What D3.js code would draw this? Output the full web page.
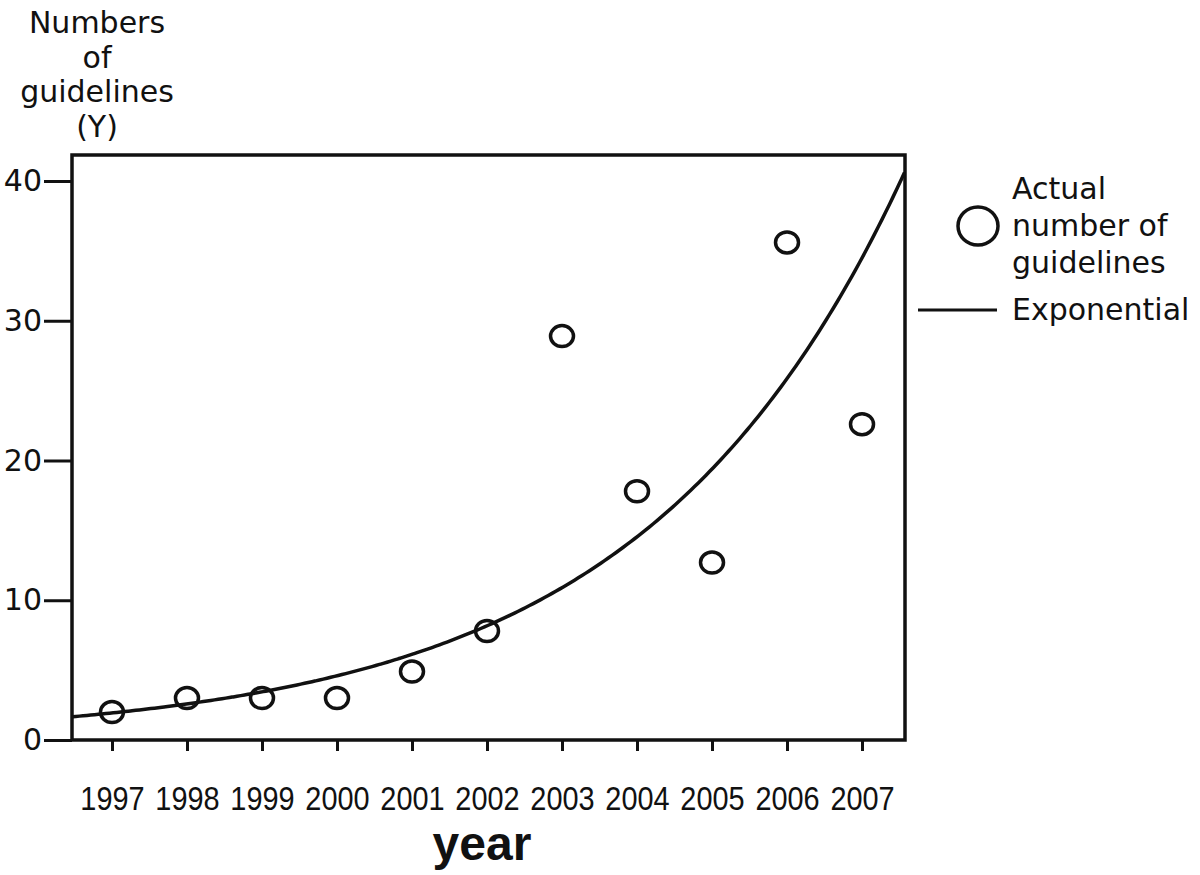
<!DOCTYPE html>
<html>
<head>
<meta charset="utf-8">
<script src="https://cdn.jsdelivr.net/npm/d3@7"></script>
<style>
  body { margin: 0; background: #fff; }
  text { fill: #111; }
</style>
</head>
<body>
<div class="canvas"></div>
<script>
// data
const years = [1997, 1998, 1999, 2000, 2001, 2002, 2003, 2004, 2005, 2006, 2007]
const guidelines = [2, 3, 3, 3, 4.9, 7.8, 28.9, 17.8, 12.7, 35.6, 22.6]
const yTicks = [0, 10, 20, 30, 40]
const yTitle = ['Numbers', 'of', 'guidelines', '(Y)']
const legendLabels = [['Actual', 'number of', 'guidelines'], ['Exponential']]

const sans = '"DejaVu Sans", sans-serif'

const svg = d3.select('.canvas')
    .append('svg')
    .attr('width', 1200)
    .attr('height', 875)

// plot frame
const margin = {top: 155, right: 295, bottom: 135, left: 72}
const graphWidth = 1200 - margin.left - margin.right
const graphHeight = 875 - margin.top - margin.bottom

const graph = svg.append('g')
    .attr('transform', `translate(${margin.left}, ${margin.top})`)

const x = d3.scaleLinear()
    .domain([1996.467, 2007.573])
    .range([0, graphWidth])

const y = d3.scaleLinear()
    .domain([0, 40])
    .range([graphHeight, graphHeight - 40 * 13.975])

// exponential fit y = a * exp(b * t), least squares on ln(y)
const ts = years.map(d => d - years[0])
const ls = guidelines.map(v => Math.log(v))
const tMean = d3.mean(ts), lMean = d3.mean(ls)
const b = d3.sum(ts, (t, i) => (t - tMean) * (ls[i] - lMean)) / d3.sum(ts, t => (t - tMean) ** 2)
const a = Math.exp(lMean - b * tMean)
const fit = d3.range(x.domain()[0], x.domain()[1] + 0.001, 0.05)
    .map(yr => [yr, a * Math.exp(b * (yr - years[0]))])

// axes
const yAxis = d3.axisLeft(y)
    .tickValues(yTicks)
    .tickSize(28)
    .tickPadding(2)
    .tickFormat(d3.format('d'))

const yAxisGroup = graph.append('g').call(yAxis)
yAxisGroup.select('.domain').remove()
yAxisGroup.selectAll('line').attr('stroke', '#111').attr('stroke-width', 3)
yAxisGroup.selectAll('text')
    .style('font-size', '30px')
    .style('font-family', sans)
    .attr('fill', '#111')

const xAxis = d3.axisBottom(x)
    .tickValues(years)
    .tickSize(11)
    .tickFormat(d3.format('d'))

const xAxisGroup = graph.append('g')
    .attr('transform', `translate(0, ${graphHeight})`)
    .call(xAxis)
xAxisGroup.select('.domain').remove()
xAxisGroup.selectAll('line').attr('stroke', '#111').attr('stroke-width', 3)
// narrow labels: squeeze a regular face horizontally
xAxisGroup.selectAll('text')
    .attr('y', 70)
    .attr('dy', 0)
    .attr('transform', 'scale(0.85, 1)')
    .style('font-size', '34px')
    .style('font-family', '"Liberation Sans", Arial, sans-serif')
    .attr('fill', '#111')

// frame
graph.append('rect')
    .attr('width', graphWidth)
    .attr('height', graphHeight)
    .attr('fill', 'none')
    .attr('stroke', '#111')
    .attr('stroke-width', 3.5)

// fitted curve
const line = d3.line()
    .x(d => x(d[0]))
    .y(d => y(d[1]))
    .curve(d3.curveBasis)

graph.append('path')
    .datum(fit)
    .attr('d', line)
    .attr('fill', 'none')
    .attr('stroke', '#111')
    .attr('stroke-width', 3.5)

// points
graph.selectAll('ellipse.pt')
    .data(years)
    .enter()
    .append('ellipse')
    .attr('class', 'pt')
    .attr('cx', d => x(d))
    .attr('cy', (d, i) => y(guidelines[i]))
    .attr('rx', 11.5)
    .attr('ry', 10.5)
    .attr('fill', 'none')
    .attr('stroke', '#111')
    .attr('stroke-width', 3.5)

// y title
svg.append('text')
    .attr('text-anchor', 'middle')
    .style('font-family', sans)
    .style('font-size', '30px')
    .selectAll('tspan')
    .data(yTitle)
    .enter()
    .append('tspan')
    .attr('x', 97)
    .attr('y', (d, i) => 33 + i * 34.5)
    .text(d => d)

// x title
svg.append('text')
    .attr('x', 482)
    .attr('y', 860)
    .attr('text-anchor', 'middle')
    .style('font-family', '"Liberation Sans", Arial, sans-serif')
    .style('font-weight', 'bold')
    .style('font-size', '48px')
    .text('year')

// legend
const legend = svg.append('g')
legend.append('ellipse')
    .attr('cx', 978)
    .attr('cy', 226)
    .attr('rx', 20)
    .attr('ry', 19)
    .attr('fill', 'none')
    .attr('stroke', '#111')
    .attr('stroke-width', 3.5)

legend.append('line')
    .attr('x1', 918)
    .attr('x2', 997)
    .attr('y1', 310)
    .attr('y2', 310)
    .attr('stroke', '#111')
    .attr('stroke-width', 3)

legend.append('text')
    .style('font-family', sans)
    .style('font-size', '30px')
    .selectAll('tspan')
    .data(legendLabels[0])
    .enter()
    .append('tspan')
    .attr('x', 1012)
    .attr('y', (d, i) => 199 + i * 37)
    .text(d => d)

legend.append('text')
    .attr('x', 1012)
    .attr('y', 320)
    .style('font-family', sans)
    .style('font-size', '30px')
    .text(legendLabels[1][0])
</script>
</body>
</html>
